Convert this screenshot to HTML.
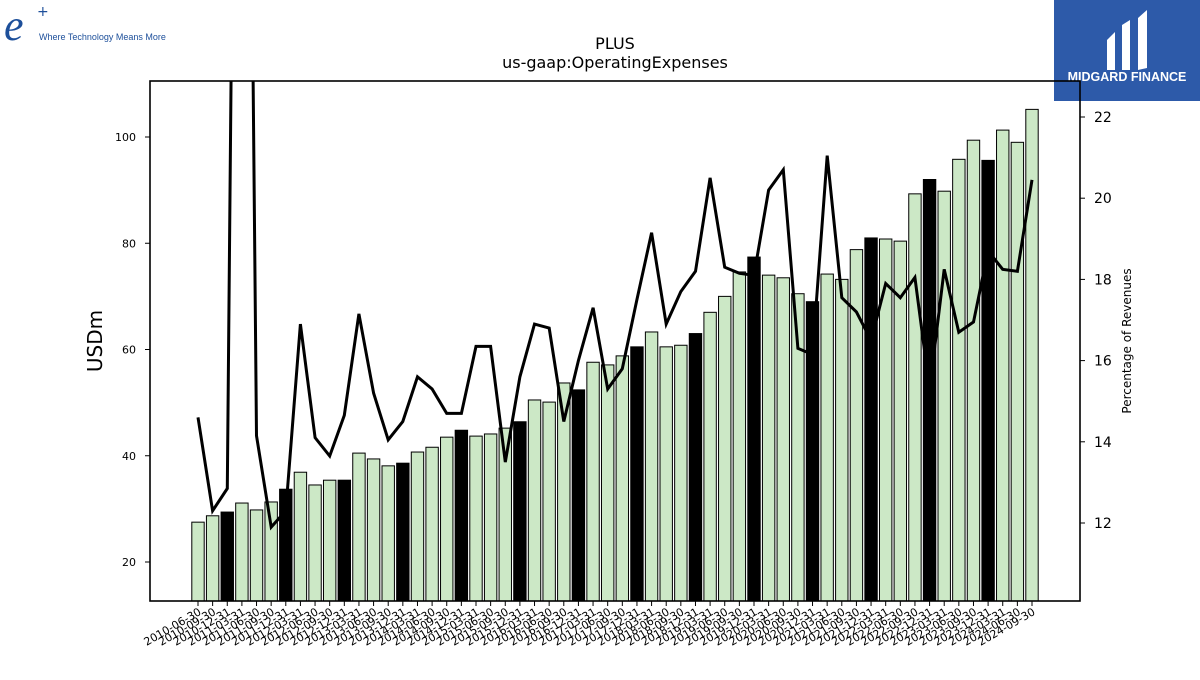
<!DOCTYPE html>
<html><head><meta charset="utf-8"><style>
body{margin:0;background:#fff;width:1200px;height:675px;overflow:hidden;font-family:"Liberation Sans","DejaVu Sans",sans-serif}
</style></head><body>
<svg id="chart" width="1200" height="675" xmlns="http://www.w3.org/2000/svg" font-family="DejaVu Sans, Liberation Sans, sans-serif">
<g>
<text x="4" y="40" font-family="Liberation Serif, serif" font-style="italic" font-size="44" fill="#1d4f9a">e</text>
<text x="37" y="16" font-size="14" fill="#1d4f9a">+</text>
<text x="39" y="40" font-size="9" fill="#1d4f9a" font-family="Liberation Sans, sans-serif">Where Technology Means More</text>
</g>
<g>
<rect x="1054" y="0" width="146" height="101" fill="#2d5aa9"/>
<path d="M1107 40 L1115 32 L1115 70 L1107 70 Z M1122 25 L1130 20 L1130 70 L1122 70 Z M1138 18 L1147 10 L1147 68 L1138 70 Z" fill="#fff"/>
<text x="1127" y="81" text-anchor="middle" font-size="12.5" font-weight="bold" fill="#fff" font-family="Liberation Sans, sans-serif">MIDGARD FINANCE</text>
</g>
<text x="615" y="49" text-anchor="middle" font-size="16">PLUS</text>
<text x="615" y="68" text-anchor="middle" font-size="16">us-gaap:OperatingExpenses</text>
<text transform="translate(102,341) rotate(-90)" text-anchor="middle" font-size="20">USDm</text>
<text transform="translate(1131,341) rotate(-90)" text-anchor="middle" font-size="12">Percentage of Revenues</text>
<g id="plot"></g>
</svg>
<script>
const categories=["2010-06-30","2010-09-30","2010-12-31","2011-03-31","2011-06-30","2011-09-30","2011-12-31","2012-03-31","2012-06-30","2012-09-30","2012-12-31","2013-03-31","2013-06-30","2013-09-30","2013-12-31","2014-03-31","2014-06-30","2014-09-30","2014-12-31","2015-03-31","2015-06-30","2015-09-30","2015-12-31","2016-03-31","2016-06-30","2016-09-30","2016-12-31","2017-03-31","2017-06-30","2017-09-30","2017-12-31","2018-03-31","2018-06-30","2018-09-30","2018-12-31","2019-03-31","2019-06-30","2019-09-30","2019-12-31","2020-03-31","2020-06-30","2020-09-30","2020-12-31","2021-03-31","2021-06-30","2021-09-30","2021-12-31","2022-03-31","2022-06-30","2022-09-30","2022-12-31","2023-03-31","2023-06-30","2023-09-30","2023-12-31","2024-03-31","2024-06-30","2024-09-30"];
const expenses=[27.5,28.7,29.4,31.1,29.8,31.3,33.7,36.9,34.5,35.4,35.4,40.5,39.4,38.1,38.6,40.7,41.6,43.5,44.8,43.7,44.1,45.2,46.4,50.5,50.1,53.7,52.4,57.6,57.1,58.8,60.5,63.3,60.5,60.8,63.0,67.0,70.0,74.6,77.4,74.0,73.5,70.5,69.0,74.2,73.2,78.8,81.0,80.8,80.4,89.3,92.0,89.8,95.8,99.4,95.6,101.3,99.0,105.2];
const pctRevenue=[14.6,12.3,12.85,52,14.15,11.9,12.3,16.9,14.1,13.65,14.65,17.15,15.2,14.05,14.5,15.6,15.3,14.7,14.7,16.35,16.35,13.5,15.6,16.9,16.8,14.5,16.0,17.3,15.3,15.8,17.5,19.15,16.9,17.7,18.2,20.5,18.3,18.15,18.1,20.2,20.7,16.3,16.15,21.05,17.55,17.2,16.5,17.9,17.55,18.05,15.3,18.25,16.7,16.95,18.7,18.25,18.2,20.45];
const leftTicks=[20,40,60,80,100];
const rightTicks=[12,14,16,18,20,22];

const NS="http://www.w3.org/2000/svg";
const L=150,R=1080,T=81,B=601;
const yL=v=>562-(v-20)*5.3125;
const yR=v=>523-(v-12)*40.6;
const xC=i=>198+i*(1032-198)/(categories.length-1);
const plot=document.getElementById('plot');
function mk(tag,attrs,parent){const e=document.createElementNS(NS,tag);for(const k in attrs)e.setAttribute(k,attrs[k]);(parent||plot).appendChild(e);return e;}
const clip=mk('clipPath',{id:'pc'});mk('rect',{x:L,y:T,width:R-L,height:B-T},clip);
const bw=12.4;
expenses.forEach((v,i)=>{
 const y=yL(v);
 const r=mk('rect',{x:xC(i)-bw/2,y:y,width:bw,height:B-y,fill:(i%4===2)?'#000':'#cce8c6',stroke:'#000','stroke-width':1});
 
 
});
const pts=pctRevenue.map((v,i)=>xC(i).toFixed(1)+','+yR(v).toFixed(1)).join(' ');
const line=mk('polyline',{points:pts,fill:'none',stroke:'#000','stroke-width':3,'stroke-linejoin':'miter','clip-path':'url(#pc)'});


const frame=mk('rect',{x:L,y:T,width:R-L,height:B-T,fill:'none',stroke:'#000','stroke-width':1.6});


leftTicks.forEach(v=>{
 const y=yL(v);
 mk('line',{x1:L-5,x2:L,y1:y,y2:y,stroke:'#000'});
 const t=mk('text',{x:L-14,y:y+4,'text-anchor':'end','font-size':11});
 t.textContent=v;
 
 
});
rightTicks.forEach(v=>{
 const y=yR(v);
 mk('line',{x1:R,x2:R+5,y1:y,y2:y,stroke:'#000'});
 const t=mk('text',{x:R+14,y:y+5,'font-size':14});
 t.textContent=v;
 
 
});
categories.forEach((c,i)=>{
 const x=xC(i);
 mk('line',{x1:x,x2:x,y1:B,y2:B+5,stroke:'#000'});
 const t=mk('text',{transform:`translate(${x+4},${B+13}) rotate(-30)`,'text-anchor':'end','font-size':11});
 t.textContent=c;
 
 
});
</script>
</body></html>
